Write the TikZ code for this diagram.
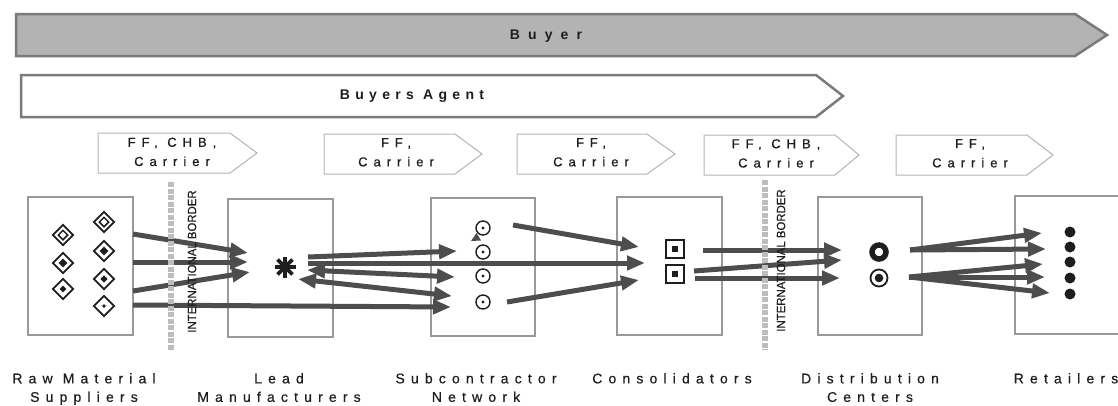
\documentclass[tikz,border=0pt]{standalone}
\usepackage{fontspec}
\usetikzlibrary{arrows.meta,shapes.geometric}
\setmainfont{Liberation Sans}
\newfontfamily\labfont[LetterSpace=44,FakeBold=0.6]{Liberation Sans}
\newfontfamily\flagfont[LetterSpace=46,FakeBold=0.6]{Liberation Sans}
\newfontfamily\buyerfont[LetterSpace=58]{Liberation Sans}
\newfontfamily\agentfont[LetterSpace=38]{Liberation Sans}
\newfontfamily\borderfont[FakeStretch=0.95,FakeBold=0.3]{Liberation Sans}
\definecolor{arrowgray}{HTML}{4D4D4D}
\definecolor{boxline}{HTML}{999999}
\definecolor{flagline}{HTML}{B4B4B4}
\definecolor{barline}{HTML}{7A7A7A}
\definecolor{barfill}{HTML}{B3B3B3}
\definecolor{bordergray}{HTML}{BDBDBD}
\definecolor{ink}{HTML}{1E1E1E}
\begin{document}
\begin{tikzpicture}[x=1pt,y=-1pt,
  bar/.style={draw=barline, line width=2.5pt, line join=miter},
  bartxt/.style={text=ink, inner sep=0pt},
  flag/.style={draw=flagline, line width=1pt, fill=white},
  flagtxt/.style={font={\flagfont\fontsize{13pt}{19.2pt}\selectfont}, text=ink, align=center, anchor=north, inner sep=0pt},
  entity/.style={draw=boxline, line width=1.2pt, fill=white, inner sep=0pt, minimum width=105pt, minimum height=138pt},
  lab/.style={font={\labfont\fontsize{14pt}{18.5pt}\selectfont}, text=ink, align=center, anchor=north, inner sep=0pt},
  dia/.style={diamond, aspect=1, draw=ink, line width=1.7pt, minimum size=21pt, inner sep=0pt},
  diaring/.style={diamond, aspect=1, draw=ink, line width=1.5pt, minimum size=10pt, inner sep=0pt},
  diafill/.style={diamond, aspect=1, fill=ink, minimum size=#1, inner sep=0pt},
  circ/.style={circle, draw=ink, line width=1.4pt, minimum size=14pt, inner sep=0pt},
  sq/.style={rectangle, draw=ink, line width=1.8pt, minimum size=18pt, inner sep=0pt},
  sqfill/.style={rectangle, fill=ink, minimum size=6.5pt, inner sep=0pt},
  dot/.style={circle, fill=ink, minimum size=#1, inner sep=0pt},
  flow/.style={draw=arrowgray, line width=5pt, -{Triangle[length=18pt,width=14pt]}},
  twoway/.style={draw=arrowgray, line width=5pt, {Triangle[length=18pt,width=14pt]}-{Triangle[length=18pt,width=14pt]}},
  border/.style={draw=bordergray, line width=6pt, dash pattern=on 5pt off 1.5pt},
  bordertxt/.style={font={\borderfont\fontsize{12pt}{14pt}\selectfont}, text=ink, rotate=90, inner sep=0pt}
]
\useasboundingbox (0,0) rectangle (1118,405);

% role bars
\draw[bar, fill=barfill] (16,14) -- (1075,14) -- (1107,35) -- (1075,56) -- (16,56) -- cycle;
\node[bartxt, font={\buyerfont\bfseries\fontsize{14pt}{17pt}\selectfont}] (buyer) at (546,36) {Buyer};
\draw[bar, fill=white] (21,75) -- (816,75) -- (843,96) -- (816,117) -- (21,117) -- cycle;
\node[bartxt, font={\agentfont\bfseries\fontsize{14pt}{17pt}\selectfont}] (agent) at (412,96) {Buyers Agent};

% service provider flags
\draw[flag] (98,133) -- (230,133) -- (257,153) -- (230,173) -- (98,173) -- cycle;
\node[flagtxt] (f1) at (172,137.5) {FF, CHB,\\Carrier};
\draw[flag] (324,134) -- (455,134) -- (482,154) -- (455,174) -- (324,174) -- cycle;
\node[flagtxt] (f2) at (396,138) {FF,\\Carrier};
\draw[flag] (517,134) -- (647,134) -- (675,154) -- (647,174) -- (517,174) -- cycle;
\node[flagtxt] (f3) at (591,138) {FF,\\Carrier};
\draw[flag] (704,135) -- (835,135) -- (859,155) -- (835,175) -- (704,175) -- cycle;
\node[flagtxt] (f4) at (776,139) {FF, CHB,\\Carrier};
\draw[flag] (896,135) -- (1027,135) -- (1053,155) -- (1027,175) -- (896,175) -- cycle;
\node[flagtxt] (f5) at (970,139) {FF,\\Carrier};

% supply chain stages
\node[entity] (rm) at (80.5,266) {};
\node[entity] (lm) at (280.5,268) {};
\node[entity, minimum width=104pt] (sn) at (483,267) {};
\node[entity] (co) at (669.5,266) {};
\node[entity, minimum width=104pt] (dc) at (870,266) {};
\node[entity, minimum width=115pt] (rt) at (1072.5,265) {};

% raw material suppliers
\node[dia] (rm1) at (63,235) {};  \node[diaring] (rm1i) at (rm1) {};
\node[dia] (rm2) at (63,263) {};  \node[diafill=9pt] (rm2i) at (rm2) {};
\node[dia] (rm3) at (63,289) {};  \node[diafill=7pt] (rm3i) at (rm3) {};
\node[dia] (rm4) at (104,222) {}; \node[diaring] (rm4i) at (rm4) {};
\node[dia] (rm5) at (104,251) {}; \node[diafill=9pt] (rm5i) at (rm5) {};
\node[dia] (rm6) at (104,279) {}; \node[diafill=7.5pt] (rm6i) at (rm6) {};
\node[dia] (rm7) at (104,306) {}; \node[diafill=4pt] (rm7i) at (rm7) {};

% lead manufacturer
\coordinate (star) at (285,267);
\foreach \a in {0,45,90,135}
  \draw[ink, line width=3.8pt] (star) ++(\a:10.5) -- ++(\a+180:21);

% subcontractors
\foreach \y [count=\i] in {228,252,276,302} {
  \node[circ] (sn\i) at (483,\y) {};
  \fill[ink] (sn\i) circle (1.7);
}
\fill[arrowgray] (471,241) -- (476.5,233) -- (481,240.5) -- cycle;

% consolidators
\node[sq] (co1) at (675,249) {}; \node[sqfill] at (co1) {};
\node[sq] (co2) at (675,274) {}; \node[sqfill] at (co2) {};

% distribution centers
\node[circle, draw=ink, line width=5.5pt, minimum size=14pt, inner sep=0pt] (dc1) at (879,252) {};
\node[circ, line width=1.8pt, minimum size=17pt] (dc2) at (879,278) {};
\node[dot=8.6pt] (dc2i) at (dc2) {};

% retailers
\foreach \y [count=\i] in {232,247,262,278,294}
  \node[dot=11pt] (rt\i) at (1070,\y) {};

% connector end points
\coordinate (rmA) at (133,234); \coordinate (lmA) at (248,253);
\coordinate (rmB) at (133,262); \coordinate (lmB) at (248,262);
\coordinate (rmC) at (133,291); \coordinate (lmC) at (250,272);
\coordinate (rmD) at (133,305); \coordinate (snD) at (451,307);
\coordinate (lmE) at (308,257); \coordinate (snE) at (457,251);
\coordinate (lmF) at (308,263); \coordinate (coF) at (645,263);
\coordinate (lmG) at (307,270); \coordinate (snG) at (455,277);
\coordinate (lmH) at (298,279); \coordinate (snH) at (452,296);
\coordinate (snI) at (513,225); \coordinate (coI) at (639,247);
\coordinate (snJ) at (507,302); \coordinate (coJ) at (639,280);
\coordinate (coK) at (703,250); \coordinate (dcK) at (842,250);
\coordinate (coL) at (694,271); \coordinate (dcL) at (842,260);
\coordinate (coM) at (695,278); \coordinate (dcM) at (840,278);
\coordinate (dcN) at (910,250); \coordinate (dcP) at (909,277);
\coordinate (rtN1) at (1042,233); \coordinate (rtN2) at (1046,249);
\coordinate (rtP1) at (1043,264); \coordinate (rtP2) at (1045,277); \coordinate (rtP3) at (1050,293);

% material flows
\draw[flow] (rmA) -- (lmA);
\draw[flow] (rmB) -- (lmB);
\draw[flow] (rmC) -- (lmC);
\draw[flow] (rmD) -- (snD);
\draw[flow] (lmE) -- (snE);
\draw[flow] (lmF) -- (coF);
\draw[twoway] (lmG) -- (snG);
\draw[twoway] (lmH) -- (snH);
\draw[flow] (snI) -- (coI);
\draw[flow] (snJ) -- (coJ);
\draw[flow] (coK) -- (dcK);
\draw[flow] (coL) -- (dcL);
\draw[flow] (coM) -- (dcM);
\draw[flow] (dcN) -- (rtN1);
\draw[flow] (dcN) -- (rtN2);
\draw[flow] (dcP) -- (rtP1);
\draw[flow] (dcP) -- (rtP2);
\draw[flow] (dcP) -- (rtP3);

% international borders
\coordinate (b1t) at (171,182); \coordinate (b1b) at (171,351);
\draw[border] (b1t) -- (b1b);
\node[bordertxt] (b1txt) at (192,261.5) {INTERNATIONAL BORDER};
\coordinate (b2t) at (765,180); \coordinate (b2b) at (765,350);
\draw[border] (b2t) -- (b2b);
\node[bordertxt] (b2txt) at (781,260.5) {INTERNATIONAL BORDER};

% stage names
\node[lab] (lrm) at (84,373) {Raw Material\\Suppliers};
\node[lab] (llm) at (279,373) {Lead\\Manufacturers};
\node[lab] (lsn) at (476,373) {Subcontractor\\Network};
\node[lab] (lco) at (672,373) {Consolidators};
\node[lab] (ldc) at (870,373) {Distribution\\Centers};
\node[lab] (lrt) at (1066,373) {Retailers};
\end{tikzpicture}
\end{document}
